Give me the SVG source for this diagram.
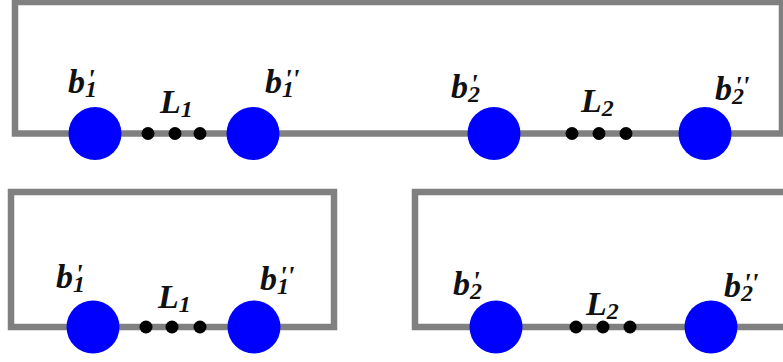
<svg xmlns="http://www.w3.org/2000/svg" width="783" height="362" viewBox="0 0 783 362">
<style>
.frame{fill:none;stroke:#808080;stroke-width:6.5}
.node{fill:#0000ff}
.dot{fill:#000}
.m{font-family:"Liberation Serif",serif;font-weight:bold;font-style:italic;font-size:34px;fill:#111}
.s{font-size:24px}
.p{font-size:28px}
</style>
<g id="connectors">
<rect class="frame" x="15" y="2" width="767" height="131.5"/>
<rect class="frame" x="11" y="192" width="323" height="135"/>
<path class="frame" d="M790 192 H415 V327 H790"/>
</g>
<g id="dots">
<circle class="dot" cx="148" cy="133.5" r="6.5"/><circle class="dot" cx="175" cy="133.5" r="6.5"/><circle class="dot" cx="200" cy="133.5" r="6.5"/>
<circle class="dot" cx="572" cy="133.5" r="6.5"/><circle class="dot" cx="599" cy="133.5" r="6.5"/><circle class="dot" cx="626" cy="133.5" r="6.5"/>
<circle class="dot" cx="146" cy="327" r="6.5"/><circle class="dot" cx="172" cy="327" r="6.5"/><circle class="dot" cx="200" cy="327" r="6.5"/>
<circle class="dot" cx="576" cy="327" r="6.5"/><circle class="dot" cx="603" cy="327" r="6.5"/><circle class="dot" cx="630" cy="327" r="6.5"/>
</g>
<g id="n-b1p-top"><circle class="node" cx="95" cy="133.5" r="26.5"/><text class="m" x="68" y="93">b<tspan class="s" dy="4">1</tspan><tspan class="p" dx="-10" dy="-9">'</tspan></text></g>
<g id="n-b1pp-top"><circle class="node" cx="253" cy="133.5" r="26.5"/><text class="m" x="265" y="93">b<tspan class="s" dy="4">1</tspan><tspan class="p" dx="-10" dy="-9">''</tspan></text></g>
<g id="n-b2p-top"><circle class="node" cx="494" cy="133.5" r="26.5"/><text class="m" x="451" y="98">b<tspan class="s" dy="4">2</tspan><tspan class="p" dx="-10" dy="-9">'</tspan></text></g>
<g id="n-b2pp-top"><circle class="node" cx="705" cy="133.5" r="26.5"/><text class="m" x="715" y="100">b<tspan class="s" dy="4">2</tspan><tspan class="p" dx="-10" dy="-9">''</tspan></text></g>
<g id="lbl-L1-top"><text class="m" x="160" y="113">L<tspan class="s" dy="4">1</tspan></text></g>
<g id="lbl-L2-top"><text class="m" x="581" y="112">L<tspan class="s" dy="4">2</tspan></text></g>
<g id="n-b1p-bot"><circle class="node" cx="93" cy="327" r="26.5"/><text class="m" x="56" y="288">b<tspan class="s" dy="4">1</tspan><tspan class="p" dx="-10" dy="-9">'</tspan></text></g>
<g id="n-b1pp-bot"><circle class="node" cx="254" cy="327" r="26.5"/><text class="m" x="260" y="290">b<tspan class="s" dy="4">1</tspan><tspan class="p" dx="-10" dy="-9">''</tspan></text></g>
<g id="n-b2p-bot"><circle class="node" cx="496" cy="327" r="26.5"/><text class="m" x="453" y="295">b<tspan class="s" dy="4">2</tspan><tspan class="p" dx="-10" dy="-9">'</tspan></text></g>
<g id="n-b2pp-bot"><circle class="node" cx="711" cy="327" r="26.5"/><text class="m" x="724" y="297">b<tspan class="s" dy="4">2</tspan><tspan class="p" dx="-10" dy="-9">''</tspan></text></g>
<g id="lbl-L1-bot"><text class="m" x="158" y="308">L<tspan class="s" dy="4">1</tspan></text></g>
<g id="lbl-L2-bot"><text class="m" x="586" y="315">L<tspan class="s" dy="4">2</tspan></text></g>
</svg>
